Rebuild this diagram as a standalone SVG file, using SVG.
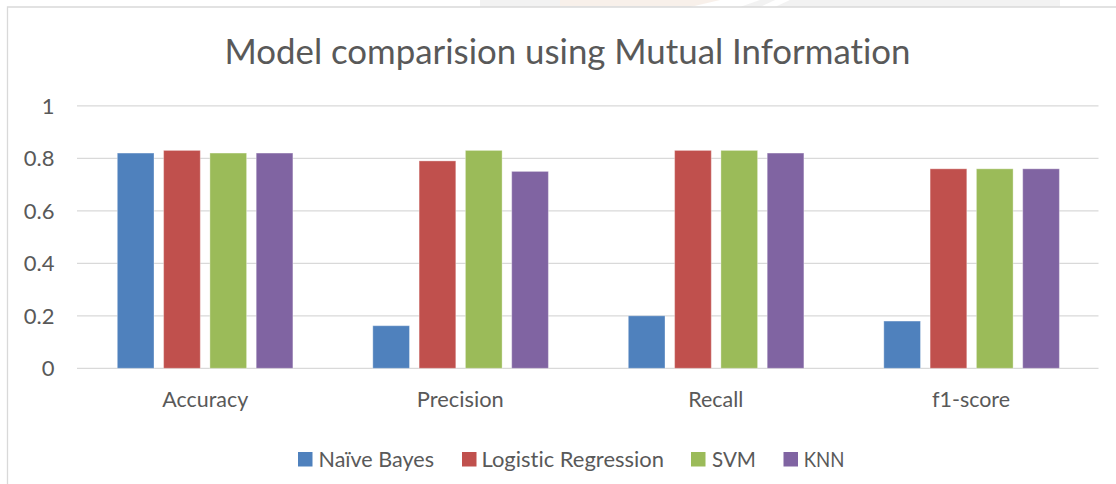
<svg xmlns="http://www.w3.org/2000/svg" width="1116" height="484" viewBox="0 0 1116 484">
  <style>
    .txt { font-family: Lato, "Open Sans", "Liberation Sans", sans-serif; fill: #595959; font-variant-ligatures: none; }
    .title { font-size: 35px; }
    .lbl { font-size: 22px; }
    .grid { stroke: #D9D9D9; stroke-width: 1.3; fill: none; }
    .frame { stroke: #D9D9D9; stroke-width: 1.3; fill: none; }
    .bar { stroke: #ffffff; stroke-opacity: 0.35; stroke-width: 1; }
    .nb { fill: #4F81BD; }
    .lr { fill: #C0504D; }
    .svm { fill: #9BBB59; }
    .knn { fill: #8064A2; }
  </style>

  <rect x="0" y="0" width="1116" height="484" fill="#ffffff"/>

  <!-- faint stamp showing above the chart frame -->
  <g id="stamp" opacity="0.5">
    <rect x="480" y="0" width="580" height="7" fill="#E6E6E6"/>
    <rect x="560" y="0" width="160" height="6" fill="#F2E2D6"/>
    <path d="M690 7 L720 0 L760 0 L740 7 Z" fill="#FFFFFF"/>
    <path d="M760 7 L775 0 L790 0 L775 7 Z" fill="#FFFFFF"/>
  </g>

  <!-- chart frame -->
  <g id="frame">
    <path class="frame" d="M7.5 484 L7.5 7 L1116 7"/>
  </g>

  <!-- title -->
  <g id="title">
    <text class="txt title" x="567.5" y="63.5" text-anchor="middle" textLength="686" lengthAdjust="spacingAndGlyphs">Model comparision using Mutual Information</text>
  </g>

  <!-- value axis: gridlines and labels -->
  <g id="value-axis">
    <line class="grid" x1="77" y1="105.8" x2="1098.5" y2="105.8"/>
    <line class="grid" x1="77" y1="158.3" x2="1098.5" y2="158.3"/>
    <line class="grid" x1="77" y1="210.8" x2="1098.5" y2="210.8"/>
    <line class="grid" x1="77" y1="263.3" x2="1098.5" y2="263.3"/>
    <line class="grid" x1="77" y1="315.8" x2="1098.5" y2="315.8"/>
    <line class="grid" x1="77" y1="368.3" x2="1098.5" y2="368.3"/>
    <text class="txt lbl" x="54.5" y="113.5" text-anchor="end">1</text>
    <text class="txt lbl" x="54.5" y="166" text-anchor="end">0.8</text>
    <text class="txt lbl" x="54.5" y="218.5" text-anchor="end">0.6</text>
    <text class="txt lbl" x="54.5" y="271" text-anchor="end">0.4</text>
    <text class="txt lbl" x="54.5" y="323.5" text-anchor="end">0.2</text>
    <text class="txt lbl" x="54.5" y="376" text-anchor="end">0</text>
  </g>

  <!-- bars: Accuracy -->
  <g id="accuracy">
    <rect class="bar nb" x="117.3" y="153.05" width="36.7" height="215.25"/>
    <rect class="bar lr" x="163.6" y="150.4" width="36.7" height="217.9"/>
    <rect class="bar svm" x="209.9" y="153.05" width="36.7" height="215.25"/>
    <rect class="bar knn" x="256.2" y="153.05" width="36.7" height="215.25"/>
    <text class="txt lbl" x="205.3" y="407" text-anchor="middle" textLength="86" lengthAdjust="spacingAndGlyphs">Accuracy</text>
  </g>

  <!-- bars: Precision -->
  <g id="precision">
    <rect class="bar nb" x="372.8" y="325.7" width="36.7" height="42.6"/>
    <rect class="bar lr" x="419.1" y="160.9" width="36.7" height="207.4"/>
    <rect class="bar svm" x="465.4" y="150.4" width="36.7" height="217.9"/>
    <rect class="bar knn" x="511.7" y="171.4" width="36.7" height="196.9"/>
    <text class="txt lbl" x="460.3" y="407" text-anchor="middle" textLength="87" lengthAdjust="spacingAndGlyphs">Precision</text>
  </g>

  <!-- bars: Recall -->
  <g id="recall">
    <rect class="bar nb" x="628.3" y="315.8" width="36.7" height="52.5"/>
    <rect class="bar lr" x="674.6" y="150.4" width="36.7" height="217.9"/>
    <rect class="bar svm" x="720.9" y="150.4" width="36.7" height="217.9"/>
    <rect class="bar knn" x="767.2" y="153.05" width="36.7" height="215.25"/>
    <text class="txt lbl" x="715.8" y="407" text-anchor="middle" textLength="55" lengthAdjust="spacingAndGlyphs">Recall</text>
  </g>

  <!-- bars: f1-score -->
  <g id="f1-score">
    <rect class="bar nb" x="883.8" y="321.05" width="36.7" height="47.25"/>
    <rect class="bar lr" x="930.1" y="168.8" width="36.7" height="199.5"/>
    <rect class="bar svm" x="976.4" y="168.8" width="36.7" height="199.5"/>
    <rect class="bar knn" x="1022.7" y="168.8" width="36.7" height="199.5"/>
    <text class="txt lbl" x="971" y="407" text-anchor="middle" textLength="78" lengthAdjust="spacingAndGlyphs">f1-score</text>
  </g>

  <!-- legend -->
  <g id="legend">
    <rect class="nb" x="298" y="452" width="14.5" height="14.5"/>
    <text class="txt lbl" x="318.5" y="466.5" textLength="115.5" lengthAdjust="spacingAndGlyphs">Naïve Bayes</text>
    <rect class="lr" x="462" y="452" width="14.5" height="14.5"/>
    <text class="txt lbl" x="481.5" y="466.5" textLength="182.5" lengthAdjust="spacingAndGlyphs">Logistic Regression</text>
    <rect class="svm" x="691" y="452" width="14.5" height="14.5"/>
    <text class="txt lbl" x="712" y="466.5" textLength="44" lengthAdjust="spacingAndGlyphs">SVM</text>
    <rect class="knn" x="783.5" y="452" width="14.5" height="14.5"/>
    <text class="txt lbl" x="803.7" y="466.5" textLength="40.7" lengthAdjust="spacingAndGlyphs">KNN</text>
  </g>
</svg>
